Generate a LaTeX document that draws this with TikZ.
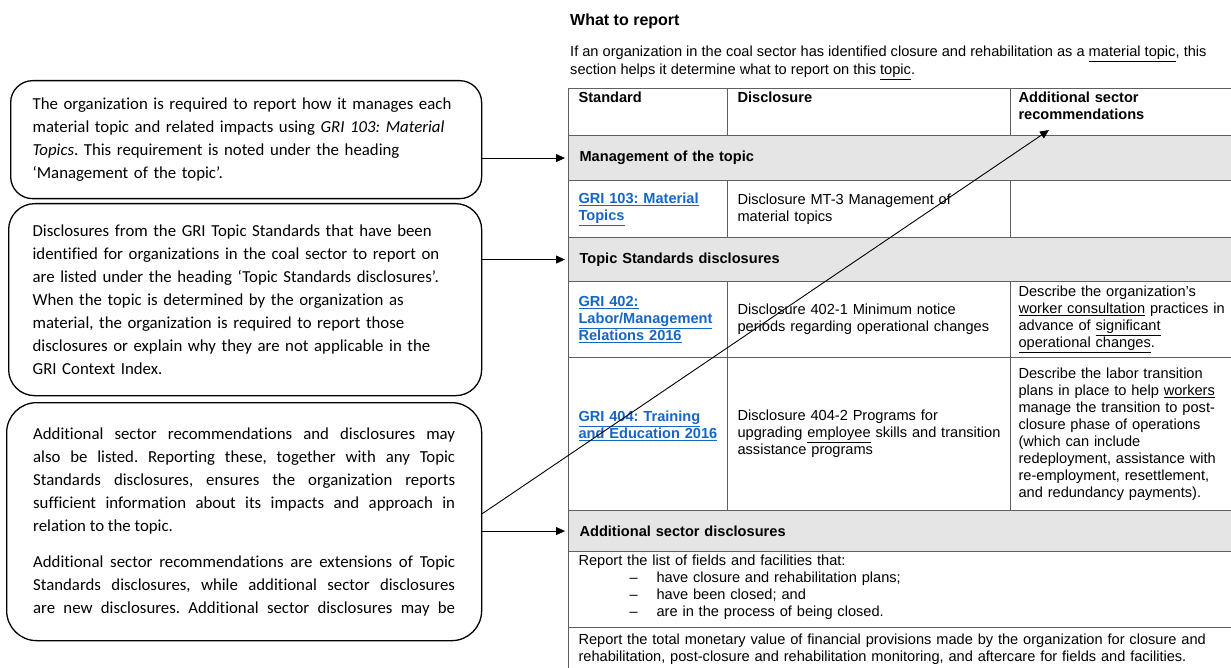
\documentclass[tikz,border=0pt]{standalone}
\usepackage{fontspec}
\setmainfont{Liberation Sans}
\newfontfamily\callfont[Ligatures=NoCommon]{Carlito}
\usetikzlibrary{arrows.meta}
\frenchspacing
\definecolor{tline}{RGB}{95,95,95}
\definecolor{rowgray}{RGB}{229,229,229}
\definecolor{linkblue}{RGB}{22,102,196}
\newcommand{\lnk}[1]{\textcolor{linkblue}{\underline{#1}}}
\tikzset{
    callout/.style={ % rounded explanation boxes on the left
    draw, line width=1.3pt, rounded corners=22pt,
    anchor=north west, inner ysep=0pt,
    font=\callfont\fontsize{16.8}{23}\selectfont},
    cell/.style={ % ordinary table cell
    draw=tline, line width=1.1pt, anchor=north west, align=left,
    inner xsep=10pt, inner ysep=0pt,
    font=\fontsize{14.6}{17}\selectfont},
    grayrow/.style={ % shaded heading row across the table
    cell, fill=rowgray, text width=646pt, inner xsep=11pt,
    font=\bfseries\fontsize{14.6}{17}\selectfont},
    topcell/.style={ % text set at the top of the cell
    cell, text height=11pt},
    pointer/.style={-{Triangle[length=9pt,width=8pt]}, line width=0.9pt, shorten >=3pt}
}

\begin{document}
\begin{tikzpicture}[x=1pt,y=-1pt]
    \useasboundingbox (0,0) rectangle (1231,668);

    % Heading and intro
    \node[anchor=base west, inner sep=0pt, font=\bfseries\fontsize{16}{19}\selectfont] (title) at (570,25.5) {What to report};
    \node[anchor=base west, inner sep=0pt, align=left, font=\fontsize{14.6}{18}\selectfont] (intro) at (570,75)
        {If an organization in the coal sector has identified closure and rehabilitation as a \underline{material topic}, this\\
         section helps it determine what to report on this \underline{topic}.};

    % Table header
    \node[topcell, text width=139pt, inner ysep=3pt, text depth=30pt, font=\bfseries\fontsize{14.6}{17}\selectfont] (hstd) at (568,88) {Standard};
    \node[topcell, text width=263pt, inner ysep=3pt, text depth=30pt, font=\bfseries\fontsize{14.6}{17}\selectfont] (hdis) at (727,88) {Disclosure};
    \node[topcell, text width=210pt, inner xsep=8pt, inner ysep=3pt, text depth=30pt, font=\bfseries\fontsize{14.6}{17}\selectfont] (hrec) at (1010,88) {Additional sector\\recommendations};

    % Management of the topic
    \node[grayrow, minimum height=45pt] (mgmt) at (568,135) {Management of the topic};
    \node[cell, text width=139pt, minimum height=57pt] (std103) at (568,180) {\lnk{\bfseries GRI 103: Material}\\\lnk{\bfseries Topics}};
    \node[cell, text width=263pt, minimum height=57pt] (dis103) at (727,180) {Disclosure MT-3 Management of\\material topics};
    \node[cell, text width=210pt, inner xsep=8pt, minimum height=57pt] (rec103) at (1010,180) {};

    % Topic Standards disclosures
    \node[grayrow, minimum height=44pt] (topic) at (568,237) {Topic Standards disclosures};
    \node[cell, text width=139pt, minimum height=76pt] (std402) at (568,281)
        {\lnk{\bfseries GRI 402:}\\\lnk{\bfseries Labor/Management}\\\lnk{\bfseries Relations 2016}};
    \node[cell, text width=263pt, minimum height=76pt] (dis402) at (727,281)
        {Disclosure 402-1 Minimum notice\\periods regarding operational changes};
    \node[cell, text width=210pt, inner xsep=8pt, minimum height=76pt] (rec402) at (1010,281)
        {Describe the organization’s\\\underline{worker consultation} practices in\\advance of \underline{significant}\\\underline{operational changes}.};
    \node[topcell, text width=139pt, text height=64pt, text depth=89pt] (std404) at (568,357)
        {\lnk{\bfseries GRI 404: Training}\\\lnk{\bfseries and Education 2016}};
    \node[cell, text width=263pt, minimum height=153pt] (dis404) at (727,357)
        {Disclosure 404-2 Programs for\\upgrading \underline{employee} skills and transition\\assistance programs};
    \node[cell, text width=210pt, inner xsep=8pt, minimum height=153pt] (rec404) at (1010,357)
        {Describe the labor transition\\plans in place to help \underline{workers}\\manage the transition to post-\\closure phase of operations\\(which can include\\redeployment, assistance with\\re-employment, resettlement,\\and redundancy payments).};

    % Additional sector disclosures
    \node[grayrow, minimum height=41pt] (addl) at (568,510) {Additional sector disclosures};
    \node[topcell, text width=648pt, inner ysep=3pt, text depth=59pt] (fields) at (568,551)
        {Report the list of fields and facilities that:\\
         \hspace*{51pt}\makebox[27pt][l]{–}have closure and rehabilitation plans;\\
         \hspace*{51pt}\makebox[27pt][l]{–}have been closed; and\\
         \hspace*{51pt}\makebox[27pt][l]{–}are in the process of being closed.};
    \node[topcell, text width=648pt, inner ysep=5.5pt, text depth=26pt] (money) at (568,627)
        {Report the total monetary value of financial provisions made by the organization for closure and\\
         rehabilitation, post-closure and rehabilitation monitoring, and aftercare for fields and facilities.};

    % Explanation boxes
    \node[callout, text width=427pt, inner xsep=22pt, minimum height=118pt, align=left] (box1) at (10,80)
        {The organization is required to report how it manages each\\
         material topic and related impacts using \textit{GRI 103: Material}\\
         \textit{Topics}. This requirement is noted under the heading\\
         ‘Management of the topic’.};
    \node[callout, text width=425pt, inner xsep=24pt, minimum height=192pt, rounded corners=26pt, align=left] (box2) at (8,203)
        {Disclosures from the GRI Topic Standards that have been\\
         identified for organizations in the coal sector to report on\\
         are listed under the heading ‘Topic Standards disclosures’.\\
         When the topic is determined by the organization as\\
         material, the organization is required to report those\\
         disclosures or explain why they are not applicable in the\\
         GRI Context Index.};
    \node[callout, text width=422pt, inner xsep=26.5pt, minimum height=238pt, rounded corners=30pt, align=justify] (box3) at (6,402)
        {\noindent Additional sector recommendations and disclosures may\linebreak
         also be listed. Reporting these, together with any Topic\linebreak
         Standards disclosures, ensures the organization reports\linebreak
         sufficient information about its impacts and approach in\linebreak
         relation to the topic.\par\vspace{13pt}
         \noindent Additional sector recommendations are extensions of Topic\linebreak
         Standards disclosures, while additional sector disclosures\linebreak
         are new disclosures. Additional sector disclosures may be{\parfillskip=0pt\par}};

    % Pointers into the table
    \draw[pointer] (box1.east |- mgmt.west) -- (mgmt.west);
    \draw[pointer] (box2.east |- topic.west) -- (topic.west);
    \draw[pointer] (box3.east |- addl.west) -- (addl.west);
    \coordinate (tail) at ([yshift=8pt]box3.east);
    \coordinate (head) at (1049,130);
    \draw[pointer, shorten >=0pt] (tail) -- (head);
\end{tikzpicture}
\end{document}
